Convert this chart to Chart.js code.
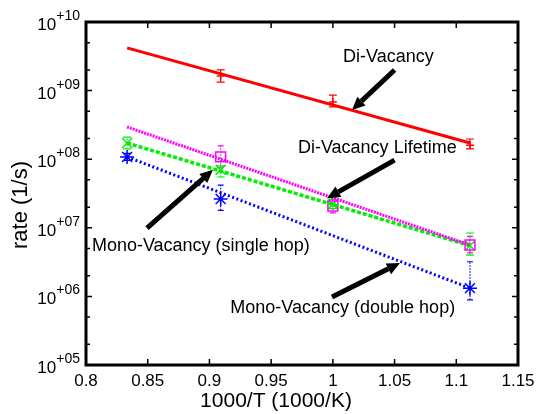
<!DOCTYPE html>
<html>
<head>
<meta charset="utf-8">
<script src="https://cdn.jsdelivr.net/npm/chart.js@4.4.0/dist/chart.umd.min.js"></script>
<style>
  body { margin: 0; background: #fff; }
</style>
</head>
<body>
<canvas id="chart" width="536" height="414"></canvas>
<script>
// 1000/T of the measured temperatures (1200, 1100, 1000, 900 K)
let invTemp = [0.8333, 0.9091, 1.0, 1.1111];
let fitX = [0.8333, 1.1111];

// Di-Vacancy
let diVacRate = [null, 1.63e9, 6.8e8, 1.6e8];
let diVacLow = [null, 1.33e9, 5.8e8, 1.41e8];
let diVacHigh = [null, 2.0e9, 8.6e8, 1.97e8];
let diVacFit = [4.2e9, 1.72e8];

// Di-Vacancy Lifetime
let lifeRate = [null, 1.08e8, 2.08e7, 5.6e6];
let lifeLow = [null, 7.5e7, 1.65e7, 4.3e6];
let lifeHigh = [null, 1.56e8, 2.6e7, 7.5e6];
let lifeFit = [2.95e8, 5.6e6];

// Mono-Vacancy (single hop)
let singleRate = [1.72e8, 7.0e7, 2.2e7, 5.5e6];
let singleLow = [1.41e8, 5.5e7, 1.9e7, 4.0e6];
let singleHigh = [2.1e8, 8.0e7, 2.6e7, 8.4e6];
let singleFit = [1.72e8, 5.5e6];

// Mono-Vacancy (double hop)
let doubleRate = [1.08e8, 2.63e7, null, 1.32e6];
let doubleLow = [9.6e7, 1.8e7, null, 8.9e5];
let doubleHigh = [1.22e8, 4.2e7, null, 3.2e6];
let doubleFit = [1.08e8, 1.32e6];

// axes
let xTicks = [0.8, 0.85, 0.9, 0.95, 1, 1.05, 1.1, 1.15];
let yExponents = [5, 6, 7, 8, 9, 10];
let yMinor = [2, 5];

// annotations (text centre and arrows, in data units)
let labelText = ["Di-Vacancy", "Di-Vacancy Lifetime", "Mono-Vacancy (single hop)", "Mono-Vacancy (double hop)"];
let labelX = [1.045, 1.036, 0.893, 1.008];
let labelY = [3.1e9, 1.46e8, 5.4e6, 6.8e5];
let arrowFromX = [1.050, 1.050, 0.8494, 0.9993];
let arrowFromY = [2.0e9, 9.7e7, 9.9e6, 9.8e5];
let arrowToX = [1.0155, 0.9953, 0.9029, 1.0544];
let arrowToY = [5.2e8, 2.7e7, 7.0e7, 3.07e6];

const FONT = "'Liberation Sans', Arial, Helvetica, sans-serif";
const GREEN = "#00ee00";

function pts(xs, ys) {
    return xs.map((x, i) => ({ x: x, y: ys[i] })).filter(p => p.y != null);
}

let errorSeries = [
    { low: diVacLow, high: diVacHigh, color: "#ff0000", dash: [], cap: 4 },
    { low: lifeLow, high: lifeHigh, color: "#ff00ff", dash: [1.5, 1.5], cap: 3 },
    { low: singleLow, high: singleHigh, color: GREEN, dash: [1.5, 1.5], cap: 4 },
    { low: doubleLow, high: doubleHigh, color: "#0000ff", dash: [1.5, 1.5], cap: 3 }
];

const errorBars = {
    id: "errorBars",
    beforeDatasetsDraw(chart) {
        const { ctx, scales: { x, y } } = chart;
        ctx.save();
        ctx.lineWidth = 1.2;
        errorSeries.forEach(s => {
            ctx.strokeStyle = s.color;
            invTemp.forEach((t, i) => {
                if (s.low[i] == null) return;
                let px = x.getPixelForValue(t);
                let y1 = y.getPixelForValue(s.low[i]);
                let y2 = y.getPixelForValue(s.high[i]);
                ctx.setLineDash(s.dash);
                ctx.beginPath();
                ctx.moveTo(px, y1);
                ctx.lineTo(px, y2);
                ctx.stroke();
                ctx.setLineDash([]);
                ctx.beginPath();
                ctx.moveTo(px - s.cap, y1); ctx.lineTo(px + s.cap, y1);
                ctx.moveTo(px - s.cap, y2); ctx.lineTo(px + s.cap, y2);
                ctx.stroke();
            });
        });
        ctx.restore();
    }
};

const frame = {
    id: "frame",
    afterDraw(chart) {
        const { ctx, chartArea: a, scales: { x, y } } = chart;
        ctx.save();
        ctx.strokeStyle = "#000";
        ctx.fillStyle = "#000";

        // ticks, inward on all four sides
        ctx.lineWidth = 1.5;
        ctx.beginPath();
        xTicks.forEach(t => {
            let px = x.getPixelForValue(t);
            ctx.moveTo(px, a.bottom); ctx.lineTo(px, a.bottom - 6);
            ctx.moveTo(px, a.top); ctx.lineTo(px, a.top + 6);
        });
        yExponents.forEach(e => {
            let py = y.getPixelForValue(Math.pow(10, e));
            ctx.moveTo(a.left, py); ctx.lineTo(a.left + 6, py);
            ctx.moveTo(a.right, py); ctx.lineTo(a.right - 6, py);
            if (e < 10) {
                yMinor.forEach(m => {
                    let pm = y.getPixelForValue(m * Math.pow(10, e));
                    ctx.moveTo(a.left, pm); ctx.lineTo(a.left + 4, pm);
                    ctx.moveTo(a.right, pm); ctx.lineTo(a.right - 4, pm);
                });
            }
        });
        ctx.stroke();

        ctx.lineWidth = 3;
        ctx.strokeRect(a.left, a.top, a.right - a.left, a.bottom - a.top);

        // x tick labels
        ctx.font = "17px " + FONT;
        ctx.textAlign = "center";
        ctx.textBaseline = "alphabetic";
        xTicks.forEach(t => {
            ctx.fillText(String(t), x.getPixelForValue(t), a.bottom + 21);
        });

        // y tick labels 10^+NN
        yExponents.forEach(e => {
            let py = y.getPixelForValue(Math.pow(10, e));
            let sup = "+" + (e < 10 ? "0" + e : String(e));
            ctx.textAlign = "right";
            ctx.font = "14px " + FONT;
            let w = ctx.measureText(sup).width;
            ctx.fillText(sup, a.left - 6, py - 2);
            ctx.font = "17px " + FONT;
            ctx.fillText("10", a.left - 6 - w, py + 8);
        });

        // axis titles
        ctx.font = "21px " + FONT;
        ctx.textAlign = "center";
        ctx.fillText("1000/T (1000/K)", 276, a.bottom + 42);
        ctx.save();
        ctx.translate(27, 205);
        ctx.rotate(-Math.PI / 2);
        ctx.font = "22px " + FONT;
        ctx.fillText("rate (1/s)", 0, 0);
        ctx.restore();

        // annotations
        ctx.font = "18px " + FONT;
        ctx.textBaseline = "middle";
        labelText.forEach((s, i) => {
            ctx.fillText(s, x.getPixelForValue(labelX[i]), y.getPixelForValue(labelY[i]));
        });
        labelText.forEach((s, i) => {
            let x1 = x.getPixelForValue(arrowFromX[i]);
            let y1 = y.getPixelForValue(arrowFromY[i]);
            let x2 = x.getPixelForValue(arrowToX[i]);
            let y2 = y.getPixelForValue(arrowToY[i]);
            let ang = Math.atan2(y2 - y1, x2 - x1);
            let head = 13, half = 6;
            let bx = x2 - head * Math.cos(ang), by = y2 - head * Math.sin(ang);
            ctx.lineWidth = 5;
            ctx.lineCap = "butt";
            ctx.beginPath();
            ctx.moveTo(x1, y1);
            ctx.lineTo(bx, by);
            ctx.stroke();
            ctx.beginPath();
            ctx.moveTo(x2, y2);
            ctx.lineTo(bx + half * Math.sin(ang), by - half * Math.cos(ang));
            ctx.lineTo(bx - half * Math.sin(ang), by + half * Math.cos(ang));
            ctx.closePath();
            ctx.fill();
        });
        ctx.restore();
    }
};

new Chart(document.getElementById("chart").getContext("2d"), {
    data: {
        datasets: [
            { type: "line", data: pts(fitX, diVacFit), borderColor: "#ff0000", borderWidth: 3, pointRadius: 0 },
            { type: "line", data: pts(fitX, lifeFit), borderColor: "#ff00ff", borderWidth: 3, borderDash: [2, 1], pointRadius: 0 },
            { type: "line", data: pts(fitX, singleFit), borderColor: GREEN, borderWidth: 3.5, borderDash: [4, 2], pointRadius: 0 },
            { type: "line", data: pts(fitX, doubleFit), borderColor: "#0000ff", borderWidth: 3, borderDash: [2, 2.5], pointRadius: 0 },
            { type: "scatter", data: pts(invTemp, diVacRate), pointStyle: "cross", pointRadius: 4, borderColor: "#ff0000", borderWidth: 1.5 },
            { type: "scatter", data: pts(invTemp, lifeRate), pointStyle: "rect", pointRadius: 7, borderColor: "#ff00ff", backgroundColor: "rgba(0,0,0,0)", borderWidth: 1.5 },
            { type: "scatter", data: pts(invTemp, singleRate), pointStyle: "crossRot", pointRadius: 7, borderColor: GREEN, borderWidth: 1.5 },
            { type: "scatter", data: pts(invTemp, doubleRate), pointStyle: "star", pointRadius: 7, borderColor: "#0000ff", borderWidth: 1.5 }
        ]
    },
    options: {
        responsive: false,
        animation: false,
        layout: { padding: { left: 86, right: 18, top: 22, bottom: 49 } },
        plugins: { legend: { display: false }, tooltip: { enabled: false } },
        scales: {
            x: { type: "linear", min: 0.8, max: 1.15, display: false },
            y: { type: "logarithmic", min: 1e5, max: 1e10, display: false }
        }
    },
    plugins: [errorBars, frame]
});
</script>
</body>
</html>
